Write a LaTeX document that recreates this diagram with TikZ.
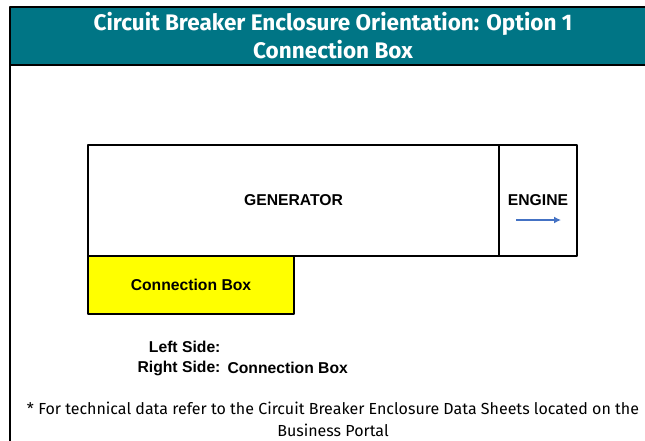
\documentclass[tikz,border=0pt]{standalone}
\usepackage{fontspec}
\setmainfont{Liberation Sans}
\newfontfamily\headfont{Fira Sans}
\usetikzlibrary{arrows.meta,positioning}
\definecolor{hdteal}{HTML}{007585}
\definecolor{arrblue}{HTML}{4472C4}
\definecolor{cbyellow}{HTML}{FFFF00}
\begin{document}
\begin{tikzpicture}[x=1pt,y=-1pt,line join=round,
  box/.style={draw,line width=1.4pt,inner sep=0pt,outer sep=0pt},
  lbl/.style={font=\bfseries\fontsize{15.7}{18}\selectfont}]
\def\gx{88}
\def\gy{145}
\useasboundingbox (0,0) rectangle (645,440);
\fill[white] (0,0) rectangle (645,440);
% header band and frame
\node[box,fill=hdteal,minimum width=640pt,minimum height=58pt,anchor=north west] (head) at (10,7) {};
\node[white,align=center,font=\headfont\bfseries\fontsize{22.5}{28}\selectfont] (title) at (333,36)
  {Circuit Breaker Enclosure Orientation: Option 1\\Connection Box};
\coordinate (fbot) at (10,441);
\draw[line width=1.4pt] (head.south west)--(fbot);
% generator set
\node[box,lbl,minimum width=411pt,minimum height=111pt,anchor=north west] (gen) at (\gx,\gy) {GENERATOR};
\node[box,lbl,minimum width=78pt,minimum height=111pt,anchor=west] (eng) at (gen.east) {ENGINE};
\node[box,lbl,fill=cbyellow,minimum width=206pt,minimum height=58pt,anchor=north west] (cbox) at (gen.south west) {Connection Box};
\coordinate (arrS) at (516,220);
\coordinate (arrE) at (561,220);
\draw[arrblue,line width=1.8pt,-{Latex[length=7pt,width=7pt]}] (arrS)--(arrE);
% sides
\node[lbl,anchor=east] (lside) at (224,347) {Left Side:};
\node[lbl,anchor=east] (rside) at (224,368) {Right Side:};
\node[lbl,anchor=west] (rval) at (rside.east) {Connection Box};
% note
\node[align=center,font=\headfont\fontsize{16}{22}\selectfont] (note) at (333,419)
  {* For technical data refer to the Circuit Breaker Enclosure Data Sheets located on the\\Business Portal};
\end{tikzpicture}
\end{document}
